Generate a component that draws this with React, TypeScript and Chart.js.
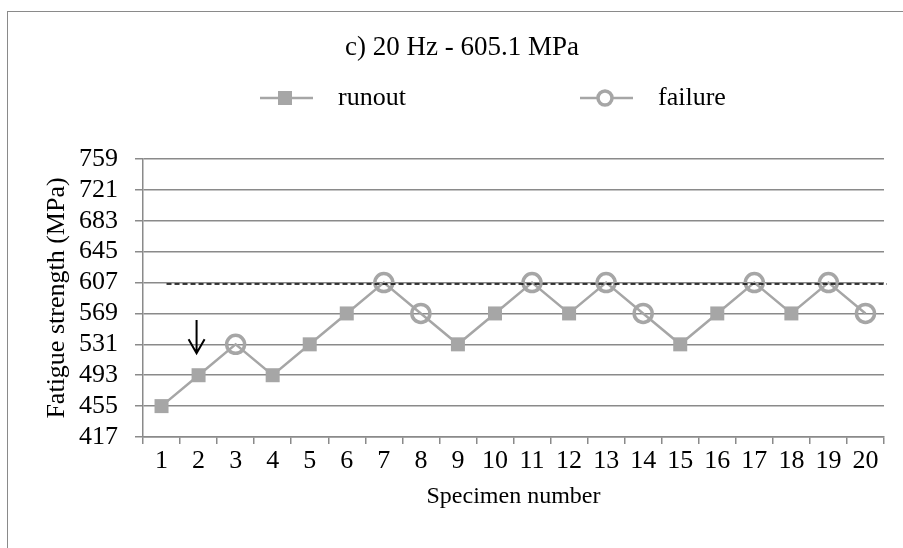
import React, { useEffect, useRef } from 'react';
import { Chart, registerables } from 'chart.js';

Chart.register(...registerables);

// ---- data ----
const specimens = ['1', '2', '3', '4', '5', '6', '7', '8', '9', '10', '11', '12', '13', '14', '15', '16', '17', '18', '19', '20'];
const stress = [455, 493, 531, 493, 531, 569, 607, 569, 531, 569, 607, 569, 607, 569, 531, 569, 607, 569, 607, 569];
const outcome = ['runout', 'runout', 'failure', 'runout', 'runout', 'runout', 'failure', 'failure', 'runout', 'runout', 'failure', 'runout', 'failure', 'failure', 'runout', 'runout', 'failure', 'runout', 'failure', 'failure'];
const yTicks = [417, 455, 493, 531, 569, 607, 645, 683, 721, 759];
const meanStrength = 605.1;
const arrowSpecimen = '2';
const arrowRange = [561, 520];

const runoutValues = stress.map((v, i) => (outcome[i] === 'runout' ? v : null));
const failureValues = stress.map((v, i) => (outcome[i] === 'failure' ? v : null));

const FONT = "'Liberation Serif', 'Times New Roman', serif";
const GRID = '#8a8a8a';
const SERIES = '#a6a6a6';

const overlayPlugin = {
  id: 'overlay',
  afterDatasetsDraw(chart: any) {
    const { ctx, chartArea, scales } = chart;
    const x = scales.x;
    const y = scales.y;
    ctx.save();
    // mean strength dashed line
    const yy = y.getPixelForValue(meanStrength);
    ctx.strokeStyle = '#000';
    ctx.lineWidth = 1.5;
    ctx.setLineDash([5, 3]);
    ctx.beginPath();
    ctx.moveTo(x.getPixelForValue(0) + 5, yy);
    ctx.lineTo(chartArea.right + 3, yy);
    ctx.stroke();
    ctx.setLineDash([]);
    // arrow
    const ax = x.getPixelForValue(specimens.indexOf(arrowSpecimen)) - 2;
    const y0 = y.getPixelForValue(arrowRange[0]);
    const y1 = y.getPixelForValue(arrowRange[1]);
    ctx.lineWidth = 2;
    ctx.beginPath();
    ctx.moveTo(ax, y0);
    ctx.lineTo(ax, y1);
    ctx.moveTo(ax - 8, y1 - 14);
    ctx.lineTo(ax, y1);
    ctx.lineTo(ax + 8, y1 - 14);
    ctx.stroke();
    ctx.restore();
  },
  afterDraw(chart: any) {
    const { ctx } = chart;
    const ly = 98;
    const items = [
      { ds: chart.data.datasets[0], x0: 260 },
      { ds: chart.data.datasets[1], x0: 580 },
    ];
    ctx.save();
    items.forEach(({ ds, x0 }) => {
      ctx.strokeStyle = SERIES;
      ctx.lineWidth = 2.5;
      ctx.beginPath();
      ctx.moveTo(x0, ly);
      ctx.lineTo(x0 + 53, ly);
      ctx.stroke();
      const cx = x0 + 25;
      if (ds.pointStyle === 'rect') {
        ctx.fillStyle = SERIES;
        ctx.fillRect(cx - 7, ly - 7, 14, 14);
      } else {
        ctx.fillStyle = '#fff';
        ctx.lineWidth = 3.5;
        ctx.beginPath();
        ctx.arc(cx, ly, 7, 0, Math.PI * 2);
        ctx.fill();
        ctx.stroke();
      }
      ctx.fillStyle = '#000';
      ctx.font = `26px ${FONT}`;
      ctx.textBaseline = 'middle';
      ctx.textAlign = 'left';
      ctx.fillText(ds.label, x0 + 78, ly);
    });
    ctx.restore();
  },
};

export default function App() {
  const ref = useRef<HTMLCanvasElement | null>(null);

  useEffect(() => {
    if (!ref.current) return;
    const tickFont = { family: FONT, size: 26, weight: 'normal' as const };
    const chart = new Chart(ref.current, {
      type: 'line',
      data: {
        labels: specimens,
        datasets: [
          {
            label: 'runout',
            data: runoutValues,
            showLine: false,
            pointStyle: 'rect',
            pointRadius: 9.9,
            pointBackgroundColor: SERIES,
            pointBorderColor: SERIES,
            pointBorderWidth: 0,
            order: 1,
          },
          {
            label: 'failure',
            data: failureValues,
            showLine: false,
            pointStyle: 'circle',
            pointRadius: 9,
            pointBackgroundColor: 'rgba(0,0,0,0)',
            pointBorderColor: SERIES,
            pointBorderWidth: 3.5,
            order: 0,
          },
          {
            label: 'sequence',
            data: stress,
            borderColor: SERIES,
            borderWidth: 2.5,
            pointRadius: 0,
            tension: 0,
            order: 2,
          },
        ],
      },
      options: {
        responsive: false,
        animation: false,
        events: [],
        layout: { padding: { left: 40, right: 19, top: 0, bottom: 0 } },
        plugins: {
          legend: { display: false },
          tooltip: { enabled: false },
          title: {
            display: true,
            text: 'c) 20 Hz - 605.1 MPa',
            color: '#000',
            font: { family: FONT, size: 27, weight: 'normal' },
            padding: { top: 31.8, bottom: 94.8 },
          },
        },
        scales: {
          x: {
            type: 'category',
            offset: true,
            grid: { offset: true, drawOnChartArea: false, drawTicks: true, tickLength: 7, color: GRID, lineWidth: 1.5 },
            border: { display: true, color: GRID, width: 1.5 },
            ticks: { font: tickFont, color: '#000', padding: 2, autoSkip: false, maxRotation: 0 },
            title: { display: true, text: 'Specimen number', color: '#000', font: { family: FONT, size: 24, weight: 'normal' }, padding: { top: 0, bottom: 37 } },
            afterFit(s: any) { s.height = 111; },
          },
          y: {
            type: 'linear',
            min: yTicks[0],
            max: yTicks[yTicks.length - 1],
            afterBuildTicks(s: any) { s.ticks = yTicks.map((v) => ({ value: v })); },
            grid: { color: GRID, lineWidth: 1.5, drawTicks: true, tickLength: 8 },
            border: { display: true, color: GRID, width: 1.5 },
            ticks: { font: tickFont, color: '#000', padding: 17, autoSkip: false },
            title: { display: true, text: 'Fatigue strength (MPa)', color: '#000', font: tickFont, padding: { top: 2, bottom: 0 } },
            afterFit(s: any) { s.width = 103; },
          },
        },
      },
      plugins: [overlayPlugin],
    });
    return () => chart.destroy();
  }, []);

  return (
    <div style={{ position: 'absolute', left: 0, top: 0, width: 903, height: 548, overflow: 'hidden', background: '#fff' }}>
      <div style={{ position: 'absolute', left: 7, top: 11, width: 1200, height: 1200, borderLeft: '1.5px solid #8a8a8a', borderTop: '1.5px solid #8a8a8a' }} />
      <canvas ref={ref} width={903} height={548} style={{ position: 'absolute', left: 0, top: 0, width: 903, height: 548, display: 'block' }} />
    </div>
  );
}
